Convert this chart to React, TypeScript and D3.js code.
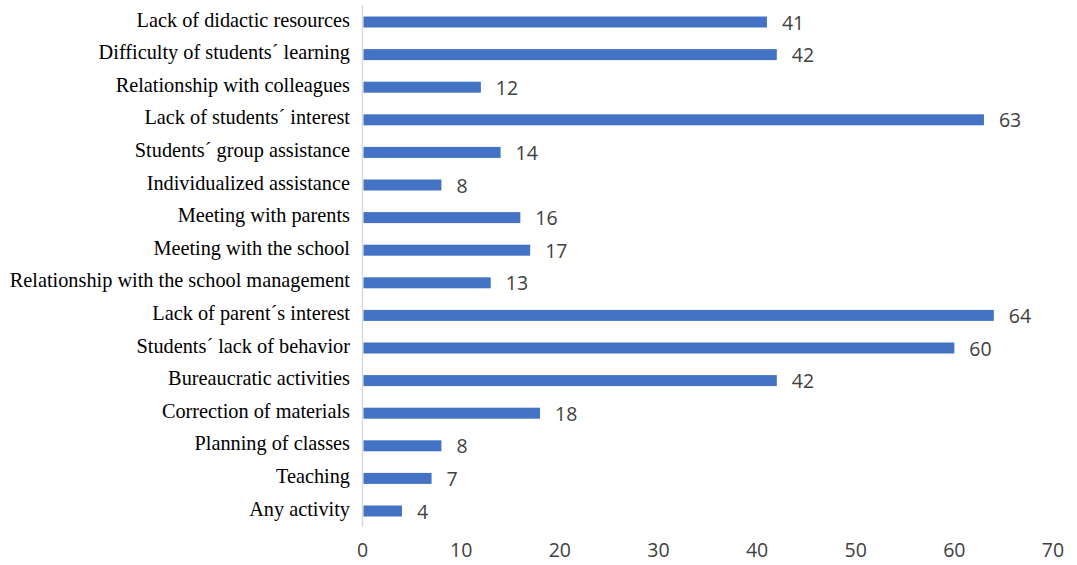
import React from "react";
import * as d3 from "d3";

const categories = [
  "Lack of didactic resources",
  "Difficulty of students´ learning",
  "Relationship with colleagues",
  "Lack of students´ interest",
  "Students´ group assistance",
  "Individualized assistance",
  "Meeting with parents",
  "Meeting with the school",
  "Relationship with the school management",
  "Lack of parent´s interest",
  "Students´ lack of behavior",
  "Bureaucratic activities",
  "Correction of materials",
  "Planning of classes",
  "Teaching",
  "Any activity",
];
const values = [41, 42, 12, 63, 14, 8, 16, 17, 13, 64, 60, 42, 18, 8, 7, 4];
const xTicks = [0, 10, 20, 30, 40, 50, 60, 70];

const W = 1077;
const H = 565;

export default function App() {
  const x = d3.scaleLinear().domain([0, 70]).range([362.5, 1053]);
  const y = d3
    .scaleBand<string>()
    .domain(categories)
    .range([5.7, 527.3])
    .paddingInner(0.66)
    .paddingOuter(0.33);
  const bw = 11;
  return (
    <svg
      width={W}
      height={H}
      style={{ position: "absolute", left: 0, top: 0, background: "#fff" }}
    >
      <line x1={x(0)} x2={x(0)} y1={5} y2={527} stroke="#d9d9d9" strokeWidth={1.5} />
      {categories.map((c, i) => {
        const cy = (y(c) as number) + y.bandwidth() / 2;
        return (
          <g key={c}>
            <rect
              x={x(0) + 1}
              y={cy - bw / 2}
              width={x(values[i]) - x(0) - 1}
              height={bw}
              fill="#4472C4"
            />
            <text
              x={350}
              y={cy + 4.5}
              textAnchor="end"
              fontFamily="'Liberation Serif', 'Times New Roman', serif"
              fontSize={20.3}
              fill="#000"
            >
              {c}
            </text>
            <text
              x={x(values[i]) + 15}
              y={cy + 7.5}
              textAnchor="start"
              fontFamily="'Open Sans', sans-serif"
              fontSize={19.5}
              fill="#404040"
            >
              {values[i]}
            </text>
          </g>
        );
      })}
      {xTicks.map((t) => (
        <text
          key={t}
          x={x(t)}
          y={557}
          textAnchor="middle"
          fontFamily="'Open Sans', sans-serif"
          fontSize={19.5}
          fill="#404040"
        >
          {t}
        </text>
      ))}
    </svg>
  );
}
